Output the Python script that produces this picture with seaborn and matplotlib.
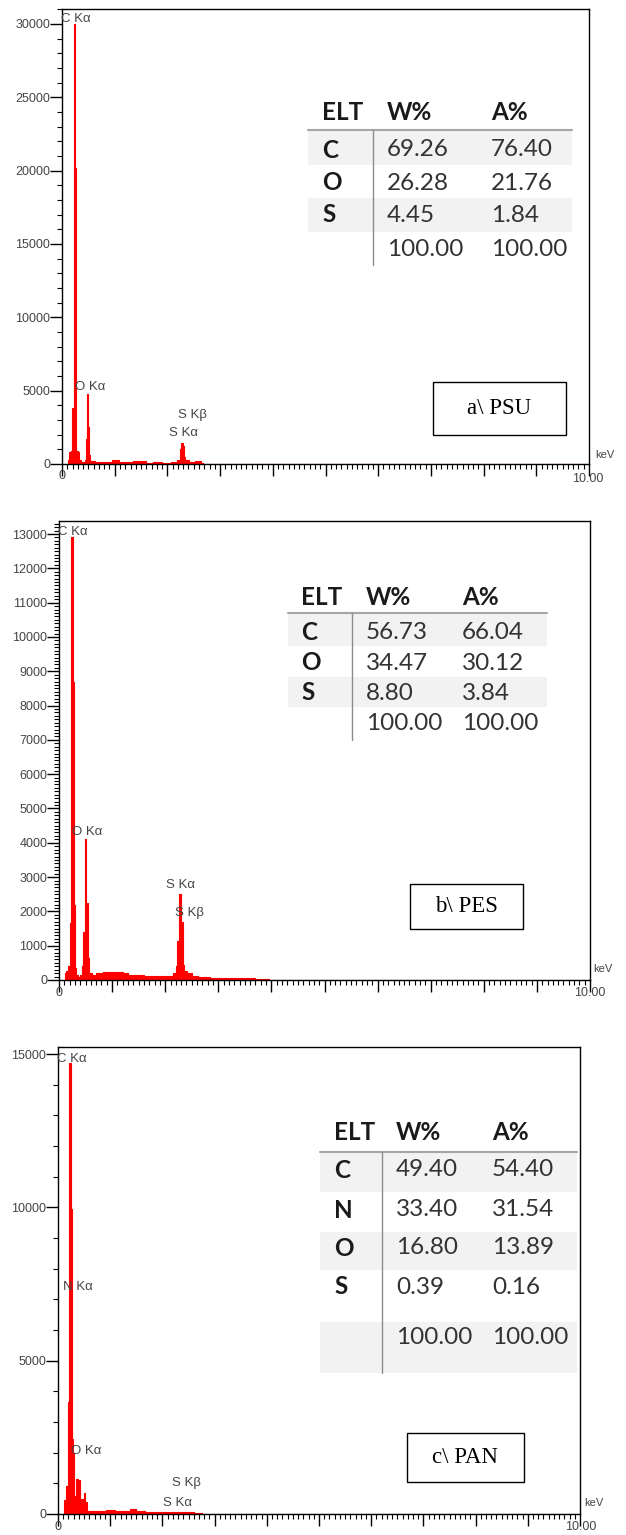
import matplotlib
matplotlib.use("Agg")
import matplotlib.pyplot as plt
import seaborn as sns
import pandas as pd
from matplotlib.patches import Rectangle
from matplotlib.lines import Line2D
from matplotlib.ticker import MultipleLocator

sns.set_theme(style="white")
plt.rcParams["font.family"] = ["Liberation Sans", "DejaVu Sans"]

W, H = 626, 1535

# ---------------- data ----------------
psu_energy = [0.00, 0.10, 0.12, 0.16, 0.18, 0.20, 0.22, 0.24, 0.26, 0.28, 0.31, 0.34, 0.38,
              0.42, 0.44, 0.46, 0.48, 0.50, 0.52, 0.55, 0.70, 0.90, 1.00, 1.06, 1.12, 1.30,
              1.40, 1.55, 1.65, 1.80, 2.00, 2.15, 2.22, 2.25, 2.28, 2.30, 2.32, 2.36, 2.45,
              2.60, 2.66, 2.70, 10.0]
psu_counts = [0, 0, 300, 800, 900, 3800, 3800, 30000, 20200, 900, 800, 300, 150,
              150, 300, 1700, 4800, 2500, 600, 200, 150, 150, 300, 250, 150, 150,
              200, 200, 100, 150, 100, 150, 300, 1000, 1450, 1200, 500, 250, 150,
              200, 100, 0, 0]

pes_energy = [0.00, 0.10, 0.12, 0.16, 0.19, 0.22, 0.245, 0.265, 0.285, 0.31, 0.34, 0.38,
              0.42, 0.44, 0.47, 0.50, 0.525, 0.55, 0.58, 0.65, 0.75, 0.90, 1.05, 1.15,
              1.25, 1.35, 1.50, 1.70, 1.90, 2.10, 2.18, 2.21, 2.25, 2.285, 2.315, 2.345,
              2.38, 2.45, 2.55, 2.70, 3.00, 3.50, 3.90, 4.00, 10.0]
pes_counts = [0, 0, 200, 250, 400, 1650, 12900, 8700, 2200, 350, 150, 100,
              150, 400, 1400, 4100, 2250, 650, 200, 150, 200, 220, 230, 240,
              200, 150, 140, 130, 120, 110, 200, 400, 1150, 2500, 1700, 450,
              260, 200, 120, 90, 60, 50, 40, 0, 0]

pan_energy = [0.00, 0.10, 0.13, 0.17, 0.20, 0.23, 0.255, 0.275, 0.30, 0.33, 0.37, 0.40,
              0.43, 0.47, 0.51, 0.54, 0.58, 0.80, 1.05, 1.15, 1.30, 1.45, 1.55, 1.80,
              2.20, 2.50, 2.70, 2.80, 10.0]
pan_counts = [0, 0, 450, 900, 3650, 14700, 9950, 2450, 2000, 600, 1150, 1100,
              200, 500, 700, 400, 100, 100, 130, 100, 90, 150, 100, 60,
              50, 60, 40, 0, 0]

psu_elements = ["C", "O", "S", ""]
psu_wt = ["69.26", "26.28", "4.45", "100.00"]
psu_at = ["76.40", "21.76", "1.84", "100.00"]

pes_elements = ["C", "O", "S", ""]
pes_wt = ["56.73", "34.47", "8.80", "100.00"]
pes_at = ["66.04", "30.12", "3.84", "100.00"]

pan_elements = ["C", "N", "O", "S", ""]
pan_wt = ["49.40", "33.40", "16.80", "0.39", "100.00"]
pan_at = ["54.40", "31.54", "13.89", "0.16", "100.00"]

table_header = ["ELT", "W%", "A%"]
panel_titles = ["a\\ PSU", "b\\ PES", "c\\ PAN"]

# ---------------- layout (pixels) ----------------
panels = [
    dict(energy=psu_energy, counts=psu_counts, box=(62, 9, 589, 464), ylim=31020,
         major=5000, minor=1000, elements=psu_elements, wt=psu_wt, at=psu_at,
         title=panel_titles[0], tbox=(433, 382, 566, 435),
         peaks=[("C K\u03b1", 61, 19), ("O K\u03b1", 75, 387), ("S K\u03b2", 178, 415), ("S K\u03b1", 169, 433)],
         tab=dict(x0=308, x1=572, cols=(322, 387, 491), hy=113, line=130,
                  rows=[150, 183, 215, 250], bands=[(130, 165), (198, 232)], vx=373, vy=(130, 265)),
         kev=(595, 455), ten=(588, 479), zero=(62, 476)),
    dict(energy=pes_energy, counts=pes_counts, box=(59, 521, 590, 980), ylim=13380,
         major=1000, minor=100, elements=pes_elements, wt=pes_wt, at=pes_at,
         title=panel_titles[1], tbox=(410, 884, 523, 929),
         peaks=[("C K\u03b1", 58, 532), ("O K\u03b1", 72, 832), ("S K\u03b1", 166, 885), ("S K\u03b2", 175, 913)],
         tab=dict(x0=288, x1=547, cols=(301, 366, 462), hy=597, line=613,
                  rows=[632, 663, 693, 724], bands=[(613, 646), (677, 707)], vx=352, vy=(613, 740)),
         kev=(593, 969), ten=(590, 993), zero=(59, 993)),
    dict(energy=pan_energy, counts=pan_counts, box=(58, 1047, 580, 1514), ylim=15230,
         major=5000, minor=1000, elements=pan_elements, wt=pan_wt, at=pan_at,
         title=panel_titles[2], tbox=(407, 1433, 524, 1482),
         peaks=[("C K\u03b1", 57, 1059), ("N K\u03b1", 63, 1287), ("O K\u03b1", 71, 1451), ("S K\u03b2", 172, 1483), ("S K\u03b1", 163, 1503)],
         tab=dict(x0=320, x1=577, cols=(334, 396, 492), hy=1132, line=1152,
                  rows=[1170, 1210, 1248, 1287, 1338], bands=[(1152, 1192), (1232, 1270), (1322, 1373)],
                  vx=382, vy=(1152, 1373)),
         kev=(584, 1503), ten=(581, 1527), zero=(58, 1527)),
]

fig = plt.figure(figsize=(W / 100, H / 100), dpi=100)

def fx(x):
    return x / W

def fy(y):
    return 1 - y / H

GRAY = "#444444"
TABFONT = ["Lato", "DejaVu Sans"]
TABSIZE = 17.5

for p in panels:
    l, t, r, b = p["box"]
    ax = fig.add_axes([fx(l), fy(b), fx(r) - fx(l), (b - t) / H])
    df = pd.DataFrame({"energy": p["energy"], "counts": p["counts"]})
    ax.fill_between(df["energy"], df["counts"], step="mid", color="#ff0000", linewidth=0)
    sns.lineplot(data=df, x="energy", y="counts", ax=ax, color="#ff0000", linewidth=0.8,
                 drawstyle="steps-mid", estimator=None)
    ax.set_xlim(0, 10)
    ax.set_ylim(0, p["ylim"])
    ax.set_xlabel("")
    ax.set_ylabel("")
    for s in ax.spines.values():
        s.set_color("black")
        s.set_linewidth(1.0)
        s.set_visible(True)
    ax.xaxis.set_major_locator(MultipleLocator(1))
    ax.xaxis.set_minor_locator(MultipleLocator(0.1))
    ax.yaxis.set_major_locator(MultipleLocator(p["major"]))
    ax.yaxis.set_minor_locator(MultipleLocator(p["minor"]))
    ax.tick_params(axis="both", which="major", direction="out", length=8.5, width=1.0,
                   color="black", left=True, bottom=True)
    ax.tick_params(axis="both", which="minor", direction="out", length=3.6, width=0.8,
                   color="black", left=True, bottom=True)
    ax.tick_params(axis="y", which="major", labelsize=9, labelcolor=GRAY, pad=0)
    ax.set_xticklabels([])
    ax.set_yticklabels([f"{int(v)}" for v in ax.get_yticks()])
    ax.set_facecolor("white")

    # axis end labels
    fig.text(fx(p["zero"][0]), fy(p["zero"][1]), "0", ha="center", va="center", fontsize=9, color=GRAY)
    fig.text(fx(p["ten"][0]), fy(p["ten"][1]), "10.00", ha="center", va="center", fontsize=9, color=GRAY)
    fig.text(fx(p["kev"][0]), fy(p["kev"][1]), "keV", ha="left", va="center", fontsize=8, color=GRAY)

    # peak labels
    for txt, x, y in p["peaks"]:
        fig.text(fx(x), fy(y), txt, ha="left", va="center", fontsize=9.5, color=GRAY)

    # sample label box
    bx0, by0, bx1, by1 = p["tbox"]
    fig.patches.append(Rectangle((fx(bx0), fy(by1)), fx(bx1) - fx(bx0), (by1 - by0) / H,
                                 transform=fig.transFigure, fill=True, facecolor="white",
                                 edgecolor="black", linewidth=1.0, zorder=5))
    fig.text(fx((bx0 + bx1) / 2), fy((by0 + by1) / 2), p["title"], ha="center", va="center",
             fontsize=16.5, family=["Liberation Serif", "DejaVu Serif"], color="black", zorder=6)

    # composition table
    tb = p["tab"]
    for (y0, y1) in tb["bands"]:
        fig.patches.append(Rectangle((fx(tb["x0"]), fy(y1)), fx(tb["x1"]) - fx(tb["x0"]), (y1 - y0) / H,
                                     transform=fig.transFigure, facecolor="#f2f2f2",
                                     edgecolor="none", zorder=3))
    fig.add_artist(Line2D([fx(tb["x0"]), fx(tb["x1"])], [fy(tb["line"]), fy(tb["line"])],
                          color="#a6a6a6", linewidth=1.5, zorder=4))
    fig.add_artist(Line2D([fx(tb["vx"]), fx(tb["vx"])], [fy(tb["vy"][0]), fy(tb["vy"][1])],
                          color="#8c8c8c", linewidth=1.0, zorder=4))
    for cx, h in zip(tb["cols"], table_header):
        fig.text(fx(cx), fy(tb["hy"]), h, ha="left", va="center", fontsize=TABSIZE,
                 fontweight="bold", family=TABFONT, color="#1a1a1a", zorder=6)
    for ry, el, w, a in zip(tb["rows"], p["elements"], p["wt"], p["at"]):
        fig.text(fx(tb["cols"][0]), fy(ry), el, ha="left", va="center", fontsize=TABSIZE,
                 fontweight="bold", family=TABFONT, color="#1a1a1a", zorder=6)
        fig.text(fx(tb["cols"][1]), fy(ry), w, ha="left", va="center", fontsize=TABSIZE,
                 family=TABFONT, color="#333333", zorder=6)
        fig.text(fx(tb["cols"][2]), fy(ry), a, ha="left", va="center", fontsize=TABSIZE,
                 family=TABFONT, color="#333333", zorder=6)

fig.savefig("out.png", dpi=100, facecolor="white")
